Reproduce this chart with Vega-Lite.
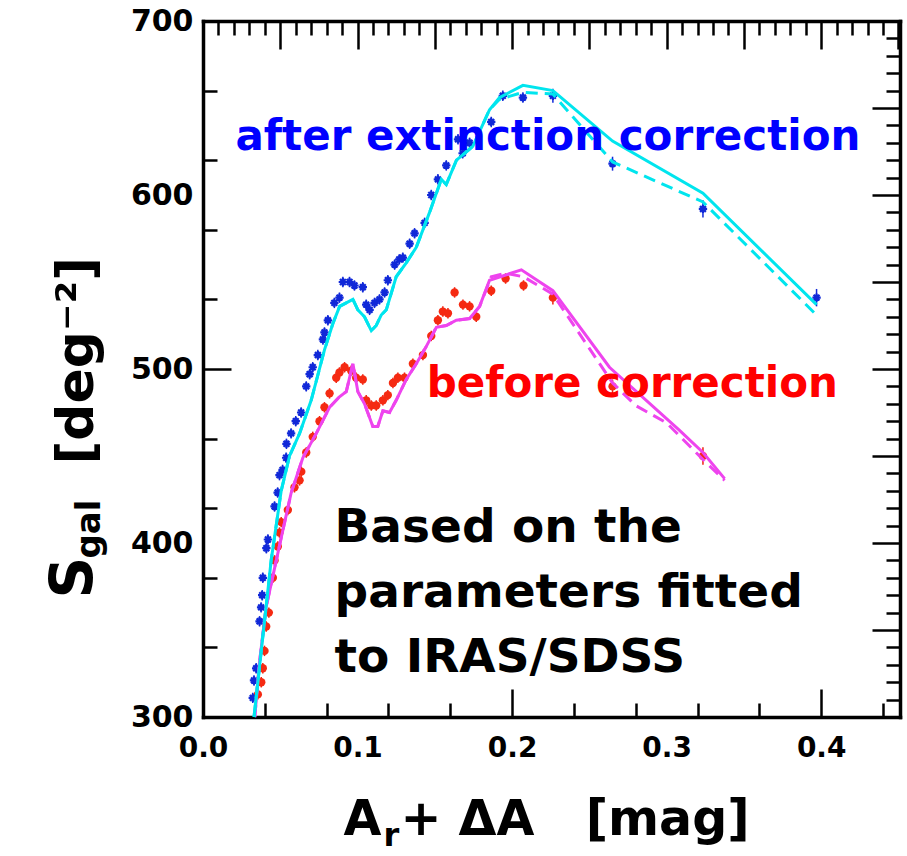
{
  "$schema": "https://vega.github.io/schema/vega-lite/v6.json",
  "width": 697,
  "height": 696,
  "autosize": {"type": "none"},
  "padding": {"left": 203, "top": 21, "right": 7, "bottom": 139},
  "background": "white",
  "config": {
    "view": {"stroke": null},
    "axis": {
      "grid": false,
      "domainColor": "black",
      "domainWidth": 3.5,
      "domainCap": "square",
      "tickColor": "black",
      "tickWidth": 2.5,
      "labelFont": "DejaVu Sans",
      "labelFontWeight": "bold",
      "labelColor": "black",
      "titleFont": "DejaVu Sans",
      "titleFontWeight": "bold",
      "titleColor": "black",
      "labelFlush": false,
      "labelOverlap": false,
      "labelBound": false
    },
    "text": {"font": "DejaVu Sans", "fontWeight": "bold"}
  },
  "datasets": {
    "after": [
      {"x": 0.0322, "S": 311, "err": 3}, {"x": 0.0330, "S": 321, "err": 3}, {"x": 0.0344, "S": 328, "err": 3},
      {"x": 0.0366, "S": 355, "err": 3}, {"x": 0.0376, "S": 363, "err": 3}, {"x": 0.0383, "S": 370, "err": 3},
      {"x": 0.0387, "S": 380, "err": 3}, {"x": 0.0410, "S": 397, "err": 3}, {"x": 0.0420, "S": 402, "err": 3},
      {"x": 0.0463, "S": 421, "err": 3}, {"x": 0.0483, "S": 429, "err": 3}, {"x": 0.0495, "S": 439, "err": 3},
      {"x": 0.0515, "S": 442, "err": 3}, {"x": 0.0538, "S": 449, "err": 3}, {"x": 0.0540, "S": 457, "err": 3},
      {"x": 0.0570, "S": 463, "err": 3}, {"x": 0.0600, "S": 470, "err": 3}, {"x": 0.0635, "S": 475, "err": 3},
      {"x": 0.0668, "S": 490, "err": 3}, {"x": 0.0690, "S": 497, "err": 3}, {"x": 0.0710, "S": 501, "err": 3},
      {"x": 0.0743, "S": 508, "err": 3}, {"x": 0.0776, "S": 517, "err": 3}, {"x": 0.0786, "S": 521, "err": 3},
      {"x": 0.0808, "S": 528, "err": 3}, {"x": 0.0850, "S": 538, "err": 3}, {"x": 0.0883, "S": 541, "err": 3},
      {"x": 0.0905, "S": 550, "err": 3}, {"x": 0.0948, "S": 550, "err": 3}, {"x": 0.0980, "S": 548, "err": 3},
      {"x": 0.1034, "S": 547, "err": 3}, {"x": 0.1056, "S": 537, "err": 3}, {"x": 0.1078, "S": 534, "err": 3},
      {"x": 0.1110, "S": 538, "err": 3}, {"x": 0.1142, "S": 540, "err": 3}, {"x": 0.1175, "S": 544, "err": 3},
      {"x": 0.1196, "S": 551, "err": 3}, {"x": 0.1240, "S": 560, "err": 3}, {"x": 0.1270, "S": 563, "err": 3},
      {"x": 0.1293, "S": 564, "err": 3}, {"x": 0.1337, "S": 572, "err": 3}, {"x": 0.1369, "S": 578, "err": 3},
      {"x": 0.1434, "S": 584, "err": 3}, {"x": 0.1477, "S": 600, "err": 3}, {"x": 0.1520, "S": 609, "err": 3},
      {"x": 0.1574, "S": 617, "err": 3}, {"x": 0.1650, "S": 632, "err": 3}, {"x": 0.1680, "S": 624, "err": 3},
      {"x": 0.1725, "S": 630, "err": 3}, {"x": 0.1865, "S": 642, "err": 3}, {"x": 0.1940, "S": 657, "err": 3},
      {"x": 0.2070, "S": 656, "err": 3}, {"x": 0.2264, "S": 657, "err": 4}, {"x": 0.2650, "S": 618, "err": 4},
      {"x": 0.3235, "S": 592, "err": 5}, {"x": 0.3970, "S": 541, "err": 5}
    ],
    "before": [
      {"x": 0.0355, "S": 313, "err": 3}, {"x": 0.0377, "S": 320, "err": 3}, {"x": 0.0387, "S": 328, "err": 3},
      {"x": 0.0398, "S": 338, "err": 3}, {"x": 0.0409, "S": 352, "err": 3}, {"x": 0.0426, "S": 360, "err": 3},
      {"x": 0.0452, "S": 380, "err": 3}, {"x": 0.0463, "S": 390, "err": 3}, {"x": 0.0484, "S": 398, "err": 3},
      {"x": 0.0495, "S": 406, "err": 3}, {"x": 0.0506, "S": 412, "err": 3}, {"x": 0.0549, "S": 419, "err": 3},
      {"x": 0.0592, "S": 432, "err": 3}, {"x": 0.0625, "S": 436, "err": 3}, {"x": 0.0636, "S": 441, "err": 3},
      {"x": 0.0668, "S": 452, "err": 3}, {"x": 0.0710, "S": 461, "err": 3}, {"x": 0.0754, "S": 470, "err": 3},
      {"x": 0.0786, "S": 478, "err": 3}, {"x": 0.0819, "S": 486, "err": 3}, {"x": 0.0862, "S": 495, "err": 3},
      {"x": 0.0883, "S": 498, "err": 3}, {"x": 0.0916, "S": 501, "err": 3}, {"x": 0.0959, "S": 499, "err": 3},
      {"x": 0.0991, "S": 495, "err": 3}, {"x": 0.1034, "S": 494, "err": 3}, {"x": 0.1056, "S": 482, "err": 3},
      {"x": 0.1089, "S": 479, "err": 3}, {"x": 0.1121, "S": 479, "err": 3}, {"x": 0.1164, "S": 482, "err": 3},
      {"x": 0.1196, "S": 485, "err": 3}, {"x": 0.1229, "S": 492, "err": 3}, {"x": 0.1261, "S": 495, "err": 3},
      {"x": 0.1304, "S": 495, "err": 3}, {"x": 0.1358, "S": 503, "err": 3}, {"x": 0.1423, "S": 508, "err": 3},
      {"x": 0.1477, "S": 519, "err": 3}, {"x": 0.1520, "S": 528, "err": 3}, {"x": 0.1552, "S": 533, "err": 3},
      {"x": 0.1585, "S": 532, "err": 3}, {"x": 0.1628, "S": 544, "err": 3}, {"x": 0.1682, "S": 537, "err": 3},
      {"x": 0.1725, "S": 536, "err": 3}, {"x": 0.1768, "S": 530, "err": 3}, {"x": 0.1865, "S": 545, "err": 3},
      {"x": 0.1958, "S": 552, "err": 3}, {"x": 0.2074, "S": 548, "err": 3}, {"x": 0.2264, "S": 541, "err": 4},
      {"x": 0.2650, "S": 490, "err": 4}, {"x": 0.3235, "S": 450, "err": 5}
    ],
    "afterFit": [
      {"x": 0.0330, "S": 300}, {"x": 0.0377, "S": 338}, {"x": 0.0441, "S": 390}, {"x": 0.0506, "S": 430},
      {"x": 0.0560, "S": 450}, {"x": 0.0625, "S": 463}, {"x": 0.0700, "S": 482}, {"x": 0.0786, "S": 511},
      {"x": 0.0840, "S": 526}, {"x": 0.0884, "S": 536}, {"x": 0.0927, "S": 538}, {"x": 0.0970, "S": 540},
      {"x": 0.1002, "S": 534}, {"x": 0.1045, "S": 530}, {"x": 0.1089, "S": 522}, {"x": 0.1121, "S": 525},
      {"x": 0.1153, "S": 531}, {"x": 0.1186, "S": 534}, {"x": 0.1250, "S": 553}, {"x": 0.1315, "S": 561},
      {"x": 0.1380, "S": 570}, {"x": 0.1466, "S": 590}, {"x": 0.1542, "S": 609}, {"x": 0.1574, "S": 606},
      {"x": 0.1640, "S": 620}, {"x": 0.1746, "S": 628}, {"x": 0.1854, "S": 649}, {"x": 0.1919, "S": 656},
      {"x": 0.2070, "S": 663}, {"x": 0.2264, "S": 660}, {"x": 0.2650, "S": 631}, {"x": 0.3235, "S": 601},
      {"x": 0.3970, "S": 537}
    ],
    "afterFit2": [
      {"x": 0.0330, "S": 300}, {"x": 0.0377, "S": 338}, {"x": 0.0441, "S": 390}, {"x": 0.0506, "S": 430},
      {"x": 0.0560, "S": 450}, {"x": 0.0625, "S": 463}, {"x": 0.0700, "S": 482}, {"x": 0.0786, "S": 511},
      {"x": 0.0840, "S": 526}, {"x": 0.0884, "S": 536}, {"x": 0.0927, "S": 538}, {"x": 0.0970, "S": 540},
      {"x": 0.1002, "S": 534}, {"x": 0.1045, "S": 530}, {"x": 0.1089, "S": 522}, {"x": 0.1121, "S": 525},
      {"x": 0.1153, "S": 531}, {"x": 0.1186, "S": 534}, {"x": 0.1250, "S": 553}, {"x": 0.1315, "S": 561},
      {"x": 0.1380, "S": 570}, {"x": 0.1466, "S": 590}, {"x": 0.1542, "S": 609}, {"x": 0.1574, "S": 606},
      {"x": 0.1640, "S": 620}, {"x": 0.1746, "S": 628}, {"x": 0.1854, "S": 649}, {"x": 0.1919, "S": 655},
      {"x": 0.2070, "S": 659}, {"x": 0.2264, "S": 658}, {"x": 0.2650, "S": 619}, {"x": 0.3235, "S": 596},
      {"x": 0.3970, "S": 531}
    ],
    "beforeFit": [
      {"x": 0.0335, "S": 300}, {"x": 0.0365, "S": 331}, {"x": 0.0408, "S": 363}, {"x": 0.0452, "S": 381},
      {"x": 0.0506, "S": 403}, {"x": 0.0571, "S": 429}, {"x": 0.0646, "S": 449}, {"x": 0.0733, "S": 463},
      {"x": 0.0819, "S": 478}, {"x": 0.0883, "S": 484}, {"x": 0.0927, "S": 487}, {"x": 0.0970, "S": 503},
      {"x": 0.1002, "S": 487}, {"x": 0.1045, "S": 480}, {"x": 0.1099, "S": 467}, {"x": 0.1131, "S": 467},
      {"x": 0.1164, "S": 476}, {"x": 0.1207, "S": 475}, {"x": 0.1250, "S": 482}, {"x": 0.1315, "S": 494},
      {"x": 0.1380, "S": 503}, {"x": 0.1445, "S": 513}, {"x": 0.1510, "S": 524}, {"x": 0.1574, "S": 525},
      {"x": 0.1639, "S": 528}, {"x": 0.1725, "S": 529}, {"x": 0.1790, "S": 536}, {"x": 0.1854, "S": 551},
      {"x": 0.2060, "S": 557}, {"x": 0.2264, "S": 545}, {"x": 0.2630, "S": 501}, {"x": 0.3080, "S": 465},
      {"x": 0.3235, "S": 452}, {"x": 0.3375, "S": 437}
    ],
    "beforeFit2": [
      {"x": 0.0335, "S": 300}, {"x": 0.0365, "S": 331}, {"x": 0.0408, "S": 363}, {"x": 0.0452, "S": 381},
      {"x": 0.0506, "S": 403}, {"x": 0.0571, "S": 429}, {"x": 0.0646, "S": 449}, {"x": 0.0733, "S": 463},
      {"x": 0.0819, "S": 478}, {"x": 0.0883, "S": 484}, {"x": 0.0927, "S": 487}, {"x": 0.0970, "S": 503},
      {"x": 0.1002, "S": 487}, {"x": 0.1045, "S": 480}, {"x": 0.1099, "S": 467}, {"x": 0.1131, "S": 467},
      {"x": 0.1164, "S": 476}, {"x": 0.1207, "S": 475}, {"x": 0.1250, "S": 482}, {"x": 0.1315, "S": 494},
      {"x": 0.1380, "S": 503}, {"x": 0.1445, "S": 513}, {"x": 0.1510, "S": 524}, {"x": 0.1574, "S": 525},
      {"x": 0.1639, "S": 528}, {"x": 0.1725, "S": 529}, {"x": 0.1790, "S": 536}, {"x": 0.1865, "S": 553},
      {"x": 0.1958, "S": 555}, {"x": 0.2074, "S": 553}, {"x": 0.2264, "S": 543}, {"x": 0.2650, "S": 492},
      {"x": 0.2800, "S": 479}, {"x": 0.3000, "S": 469}, {"x": 0.3235, "S": 448}, {"x": 0.3375, "S": 436}
    ]
  },
  "layer": [
    {
      "layer": [
        {
          "data": {"name": "before"},
          "mark": {"type": "errorbar", "color": "#f02010", "thickness": 1.5, "ticks": false},
          "encoding": {
            "x": {"field": "x", "type": "quantitative", "title": "A", "scale": {"domain": [0, 0.451], "nice": false, "zero": false},
              "axis": {
                "orient": "bottom",
                "values": [0,0.01,0.02,0.03,0.04,0.05,0.06,0.07,0.08,0.09,0.1,0.11,0.12,0.13,0.14,0.15,0.16,0.17,0.18,0.19,0.2,0.21,0.22,0.23,0.24,0.25,0.26,0.27,0.28,0.29,0.3,0.31,0.32,0.33,0.34,0.35,0.36,0.37,0.38,0.39,0.4,0.41,0.42,0.43,0.44,0.45],
                "tickSize": -28,
                "tickDash": {"condition": {"test": "abs(datum.value*20 - round(datum.value*20)) > 0.001", "value": [14, 40]}, "value": [40, 0]},
                "labels": false,
                "title": "A",
                "titleFontSize": 49,
                "titleX": 140,
                "titleY": 117,
                "titleAlign": "left",
                "titleBaseline": "alphabetic",
                "titleAngle": 0
              }
            },
            "y": {"field": "S", "type": "quantitative", "title": "[deg⁻²]", "scale": {"domain": [300, 700], "nice": false, "zero": false},
              "axis": {
                "orient": "left",
                "values": [300,310,320,330,340,350,360,370,380,390,400,410,420,430,440,450,460,470,480,490,500,510,520,530,540,550,560,570,580,590,600,610,620,630,640,650,660,670,680,690,700],
                "tickSize": -28,
                "tickDash": {"condition": {"test": "datum.value % 50 !== 0", "value": [14, 40]}, "value": [40, 0]},
                "labels": false,
                "title": "[deg⁻²]",
                "titleFontSize": 52,
                "titleAngle": 270,
                "titleX": -111,
                "titleY": 443,
                "titleAlign": "left",
                "titleBaseline": "alphabetic"
              }
            },
            "yError": {"field": "err"}
          }
        },
        {
          "data": {"name": "before"},
          "mark": {"type": "point", "shape": "circle", "filled": true, "size": 70, "color": "#f52a12", "opacity": 1},
          "encoding": {
            "x": {"field": "x", "type": "quantitative", "title": "A", "scale": {"domain": [0, 0.451], "nice": false, "zero": false}},
            "y": {"field": "S", "type": "quantitative", "title": "[deg⁻²]", "scale": {"domain": [300, 700], "nice": false, "zero": false}}
          }
        },
        {
          "data": {"name": "after"},
          "mark": {"type": "errorbar", "color": "#1028d8", "thickness": 1.5, "ticks": false},
          "encoding": {
            "x": {"field": "x", "type": "quantitative", "title": "A", "scale": {"domain": [0, 0.451], "nice": false, "zero": false}},
            "y": {"field": "S", "type": "quantitative", "title": "[deg⁻²]", "scale": {"domain": [300, 700], "nice": false, "zero": false}},
            "yError": {"field": "err"}
          }
        },
        {
          "data": {"name": "after"},
          "mark": {"type": "point", "shape": "M-1,0L1,0M0,-1L0,1M-0.7,-0.7L0.7,0.7M-0.7,0.7L0.7,-0.7", "filled": false, "size": 70, "color": "#1028d8", "strokeWidth": 2.2, "opacity": 1},
          "encoding": {
            "x": {"field": "x", "type": "quantitative", "title": "A", "scale": {"domain": [0, 0.451], "nice": false, "zero": false}},
            "y": {"field": "S", "type": "quantitative", "title": "[deg⁻²]", "scale": {"domain": [300, 700], "nice": false, "zero": false}}
          }
        },
        {
          "data": {"name": "beforeFit2"},
          "mark": {"type": "line", "color": "#ee44ee", "strokeWidth": 3, "strokeDash": [12, 7]},
          "encoding": {
            "x": {"field": "x", "type": "quantitative", "title": "A", "scale": {"domain": [0, 0.451], "nice": false, "zero": false}},
            "y": {"field": "S", "type": "quantitative", "title": "[deg⁻²]", "scale": {"domain": [300, 700], "nice": false, "zero": false}}
          }
        },
        {
          "data": {"name": "beforeFit"},
          "mark": {"type": "line", "color": "#ee44ee", "strokeWidth": 3},
          "encoding": {
            "x": {"field": "x", "type": "quantitative", "title": "A", "scale": {"domain": [0, 0.451], "nice": false, "zero": false}},
            "y": {"field": "S", "type": "quantitative", "title": "[deg⁻²]", "scale": {"domain": [300, 700], "nice": false, "zero": false}}
          }
        },
        {
          "data": {"name": "afterFit2"},
          "mark": {"type": "line", "color": "#00e5ee", "strokeWidth": 3, "strokeDash": [12, 7]},
          "encoding": {
            "x": {"field": "x", "type": "quantitative", "title": "A", "scale": {"domain": [0, 0.451], "nice": false, "zero": false}},
            "y": {"field": "S", "type": "quantitative", "title": "[deg⁻²]", "scale": {"domain": [300, 700], "nice": false, "zero": false}}
          }
        },
        {
          "data": {"name": "afterFit"},
          "mark": {"type": "line", "color": "#00e5ee", "strokeWidth": 3},
          "encoding": {
            "x": {"field": "x", "type": "quantitative", "title": "A", "scale": {"domain": [0, 0.451], "nice": false, "zero": false}},
            "y": {"field": "S", "type": "quantitative", "title": "[deg⁻²]", "scale": {"domain": [300, 700], "nice": false, "zero": false}}
          }
        },
        {
          "data": {"values": [{"label": "after extinction correction"}]},
          "mark": {"type": "text", "align": "left", "baseline": "alphabetic", "fontSize": 42, "color": "#0000ff"},
          "encoding": {
            "x": {"datum": 0.021, "title": "A"},
            "y": {"datum": 626, "title": "[deg⁻²]"},
            "text": {"field": "label"}
          }
        },
        {
          "data": {"values": [{"label": "before correction"}]},
          "mark": {"type": "text", "align": "left", "baseline": "alphabetic", "fontSize": 42, "color": "#ff0000"},
          "encoding": {
            "x": {"datum": 0.1447, "title": "A"},
            "y": {"datum": 484, "title": "[deg⁻²]"},
            "text": {"field": "label"}
          }
        },
        {
          "data": {"values": [{"label": "Based on the\nparameters fitted\nto IRAS/SDSS"}]},
          "mark": {"type": "text", "align": "left", "baseline": "alphabetic", "fontSize": 47, "color": "black", "lineBreak": "\n", "lineHeight": 65},
          "encoding": {
            "x": {"datum": 0.0851, "title": "A"},
            "y": {"datum": 400.6, "title": "[deg⁻²]"},
            "text": {"field": "label"}
          }
        }
      ]
    },
    {
      "data": {"name": "before"},
      "mark": {"type": "point", "opacity": 0},
      "encoding": {
        "x": {"field": "x", "type": "quantitative", "scale": {"domain": [0, 0.451], "nice": false, "zero": false},
          "axis": {
            "orient": "top",
            "values": [0,0.01,0.02,0.03,0.04,0.05,0.06,0.07,0.08,0.09,0.1,0.11,0.12,0.13,0.14,0.15,0.16,0.17,0.18,0.19,0.2,0.21,0.22,0.23,0.24,0.25,0.26,0.27,0.28,0.29,0.3,0.31,0.32,0.33,0.34,0.35,0.36,0.37,0.38,0.39,0.4,0.41,0.42,0.43,0.44,0.45],
            "tickSize": -28,
            "tickDash": {"condition": {"test": "abs(datum.value*20 - round(datum.value*20)) > 0.001", "value": [14, 40]}, "value": [40, 0]},
            "labels": false,
            "title": null
          }
        },
        "y": {"field": "S", "type": "quantitative", "scale": {"domain": [300, 700], "nice": false, "zero": false},
          "axis": {
            "orient": "right",
            "values": [300,310,320,330,340,350,360,370,380,390,400,410,420,430,440,450,460,470,480,490,500,510,520,530,540,550,560,570,580,590,600,610,620,630,640,650,660,670,680,690,700],
            "tickSize": -28,
            "tickDash": {"condition": {"test": "datum.value % 50 !== 0", "value": [14, 40]}, "value": [40, 0]},
            "labels": false,
            "title": null
          }
        }
      }
    },
    {
      "data": {"name": "before"},
      "mark": {"type": "point", "opacity": 0},
      "encoding": {
        "x": {"field": "x", "type": "quantitative", "scale": {"domain": [0, 0.451], "nice": false, "zero": false},
          "axis": {
            "orient": "bottom", "domain": false, "ticks": false,
            "values": [0, 0.1, 0.2, 0.3, 0.4],
            "format": ".1f",
            "labelFontSize": 28,
            "labelPadding": 17,
            "labelBaseline": "top",
            "labelOverlap": false,
            "labelFlush": false,
            "title": "r", "titleFontSize": 32, "titleX": 180, "titleY": 128,
            "titleAlign": "left", "titleBaseline": "alphabetic", "titleAngle": 0
          }
        },
        "y": {"field": "S", "type": "quantitative", "scale": {"domain": [300, 700], "nice": false, "zero": false},
          "axis": {
            "orient": "left", "domain": false, "ticks": false,
            "values": [300, 400, 500, 600, 700],
            "format": "d",
            "labelFontSize": 30,
            "labelPadding": 10,
            "labelBaseline": "middle",
            "labelAlign": "right",
            "labelOverlap": false,
            "labelFlush": false,
            "title": "S", "titleFontSize": 58, "titleAngle": 270, "titleX": -112, "titleY": 577,
            "titleAlign": "left", "titleBaseline": "alphabetic"
          }
        }
      }
    },
    {
      "data": {"name": "after"},
      "mark": {"type": "point", "opacity": 0},
      "encoding": {
        "x": {"field": "x", "type": "quantitative", "scale": {"domain": [0, 0.451], "nice": false, "zero": false},
          "axis": {
            "orient": "bottom", "domain": false, "ticks": false, "labels": false,
            "title": "+\u00a0ΔA\u00a0\u00a0\u00a0[mag]", "titleFontSize": 49, "titleX": 197, "titleY": 117,
            "titleAlign": "left", "titleBaseline": "alphabetic", "titleAngle": 0
          }
        },
        "y": {"field": "S", "type": "quantitative", "scale": {"domain": [300, 700], "nice": false, "zero": false},
          "axis": {
            "orient": "left", "domain": false, "ticks": false, "labels": false,
            "title": "gal", "titleFontSize": 34, "titleAngle": 270, "titleX": -104, "titleY": 537,
            "titleAlign": "left", "titleBaseline": "alphabetic"
          }
        }
      }
    }
  ],
  "resolve": {"scale": {"x": "independent", "y": "independent"}}
}
